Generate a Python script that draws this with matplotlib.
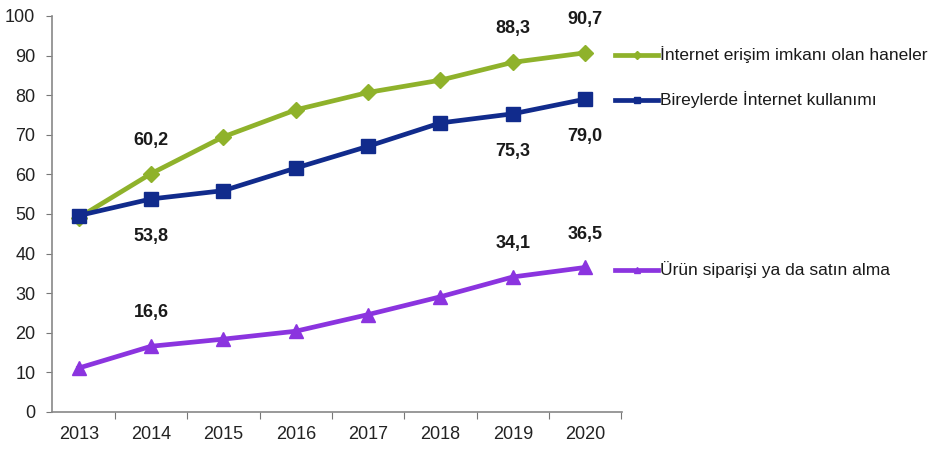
import matplotlib
matplotlib.use("Agg")
import matplotlib.pyplot as plt
from matplotlib.lines import Line2D
from matplotlib import font_manager as fm

years = ["2013", "2014", "2015", "2016", "2017", "2018", "2019", "2020"]
hane = [49.1, 60.2, 69.5, 76.3, 80.7, 83.8, 88.3, 90.7]
birey = [49.6, 53.8, 55.9, 61.6, 67.1, 73.0, 75.3, 79.0]
siparis = [11.1, 16.6, 18.4, 20.4, 24.6, 29.1, 34.1, 36.5]
names = ["İnternet erişim imkanı olan haneler", "Bireylerde İnternet kullanımı",
         "Ürün siparişi ya da satın alma"]

# labelled points: (series index, year index, position)
labels = [(0, 1, "above"), (1, 1, "below"), (2, 1, "above"),
          (0, 6, "above"), (0, 7, "above"), (1, 6, "below"), (1, 7, "below"),
          (2, 6, "above"), (2, 7, "above")]

avail = {f.name for f in fm.fontManager.ttflist}
fam = ["Liberation Sans Narrow", "Liberation Sans", "DejaVu Sans"]
fam = [f for f in fam if f in avail] + ["DejaVu Sans"]
plt.rcParams["font.family"] = fam

colors = ["#8FB22B", "#112B8C", "#8B34DF"]
markers = ["D", "s", "^"]
msizes = [8, 10, 10]
series = [hane, birey, siparis]

fig = plt.figure(figsize=(9.37, 4.55), dpi=100)
ax = fig.add_axes([52/937, 1-412/455, (622-52)/937, (412-16)/455])
x = list(range(len(years)))
for s, c, m, ms in zip(series, colors, markers, msizes):
    ax.plot(x, s, color=c, lw=3.4, marker=m, markersize=ms, zorder=3)

fmt = lambda v: f"{v:.1f}".replace(".", ",")
for si, yi, pos in labels:
    v = series[si][yi]
    off = 24 if pos == "above" else -27
    ax.annotate(fmt(v), (yi, v), xytext=(0, off), textcoords="offset points",
                ha="center", va="center", fontsize=13, fontweight="bold", color="#1a1a1a")

ax.set_xlim(-0.37, 7.51)
ax.set_ylim(0, 100)
ax.set_yticks(range(0, 101, 10))
ax.set_xticks([i + 0.5 for i in range(8)])
ax.set_xticklabels([])
ax.set_xticks(x, minor=True)
ax.set_xticklabels(years, minor=True)
ax.tick_params(axis="x", which="major", length=5, direction="out", color="#777777")
ax.tick_params(axis="x", which="minor", length=0, labelsize=13, pad=10, labelcolor="#222222")
ax.tick_params(axis="y", length=4, direction="out", color="#777777", labelsize=13,
               labelcolor="#222222", pad=8)
for sp in ["top", "right"]:
    ax.spines[sp].set_visible(False)
for sp in ["left", "bottom"]:
    ax.spines[sp].set_color("#888888")
    ax.spines[sp].set_linewidth(1.2)

# legend entries next to the line ends
leg_y = [55, 100, 270]
for name, c, m, ly in zip(names, colors, markers, leg_y):
    yf = 1 - ly/455
    fig.add_artist(Line2D([615/937, 658/937], [yf, yf], color=c, lw=3.4,
                          marker=None, transform=fig.transFigure))
    fig.add_artist(Line2D([636.5/937], [yf], color=c, marker=m, markersize=4,
                          transform=fig.transFigure))
    fig.text(660/937, yf, name, fontsize=12.5, va="center", ha="left", color="#1a1a1a")

fig.savefig("out.png", dpi=100)
